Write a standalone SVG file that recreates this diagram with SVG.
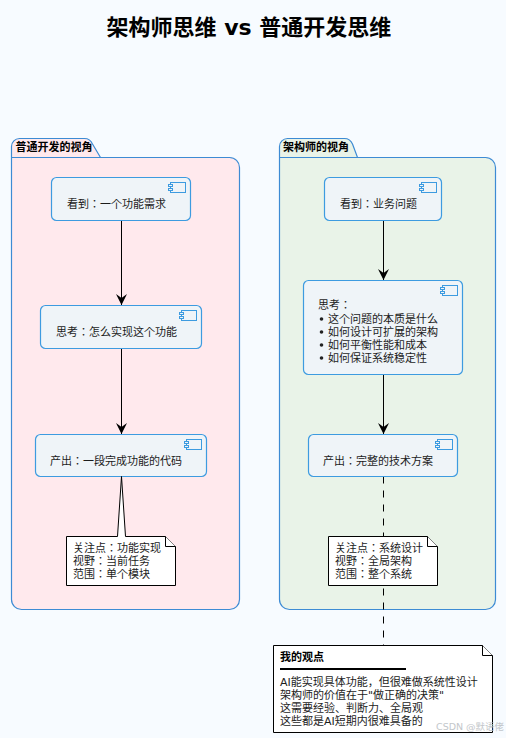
<svg xmlns="http://www.w3.org/2000/svg" width="506" height="738" viewBox="0 0 506 738">
<style>
text{font-family:"DejaVu Sans","Noto Sans CJK JP",sans-serif;font-size:11px;fill:#1c1c1c}
.pkg{stroke:#3d8bd4;stroke-width:1.200}
.box{fill:#eff4f8;stroke:#3d9be0;stroke-width:1.200}
.ic{fill:#eff4f8;stroke:#3d9be0;stroke-width:1}
.note{fill:#fff;stroke:#000;stroke-width:1}
.t{font-weight:700;fill:#000}
.cn{stroke:#000;stroke-width:1;fill:none}
</style>
<defs>
<marker id="arr" markerUnits="userSpaceOnUse" markerWidth="12" markerHeight="12" refX="11" refY="5.500" orient="auto" viewBox="0 0 12 11"><path d="M0 0L11 5.500L0 11L4 5.500Z" fill="#000"/></marker>
<g id="ci"><rect class="ic" x="2" y="0" width="15" height="10"/><rect class="ic" x="0" y="2" width="4" height="2"/><rect class="ic" x="0" y="6" width="4" height="2"/></g>
</defs>
<rect width="506" height="738" fill="#f7fbff"/>
<text x="249" y="35" text-anchor="middle" class="t" style="font-size:22px">架构师思维 vs 普通开发思维</text>

<g id="pkg-dev">
<path class="pkg" fill="#ffe9ed" d="M11.500 157.500V146.500A8 8 0 0 1 19.500 138.500H84.500Q90 138.500 92.500 144L100.500 157.500H229.500A10 10 0 0 1 239.500 167.500V599.500A10 10 0 0 1 229.500 609.500H21.500A10 10 0 0 1 11.500 599.500V157.500H100.500"/>
<text x="15.500" y="151" class="t">普通开发的视角</text>
</g>
<g id="pkg-arch">
<path class="pkg" fill="#e9f3e8" d="M279.500 157.500V146.500A8 8 0 0 1 287.500 138.500H344.500Q350 138.500 352.500 144L357.500 157.500H485.500A10 10 0 0 1 495.500 167.500V599.500A10 10 0 0 1 485.500 609.500H289.500A10 10 0 0 1 279.500 599.500V157.500H357.500"/>
<text x="283" y="151" class="t">架构师的视角</text>
</g>

<g id="connectors">
<line class="cn" x1="121.500" y1="220.500" x2="121.500" y2="305" marker-end="url(#arr)"/>
<line class="cn" x1="121.500" y1="348.500" x2="121.500" y2="434" marker-end="url(#arr)"/>
<line class="cn" x1="383.500" y1="220.500" x2="383.500" y2="280" marker-end="url(#arr)"/>
<line class="cn" x1="383.500" y1="374.500" x2="383.500" y2="434" marker-end="url(#arr)"/>
<line class="cn" stroke-dasharray="7 7" x1="383.500" y1="476.500" x2="383.500" y2="645"/>
</g>

<g id="n-dev-see"><rect class="box" x="51.500" y="177.500" width="139" height="43" rx="5"/><use href="#ci" x="168.500" y="182.500"/><text x="67" y="208">看到：一个功能需求</text></g>
<g id="n-dev-think"><rect class="box" x="40.500" y="305.500" width="161" height="43" rx="5"/><use href="#ci" x="179.500" y="310.500"/><text x="56" y="336">思考：怎么实现这个功能</text></g>
<g id="n-dev-out"><rect class="box" x="35.500" y="434.500" width="171" height="42" rx="5"/><use href="#ci" x="184.500" y="439.500"/><text x="50" y="465">产出：一段完成功能的代码</text></g>

<g id="n-arch-see"><rect class="box" x="324.500" y="177.500" width="117" height="43" rx="5"/><use href="#ci" x="419.500" y="182.500"/><text x="340" y="208">看到：业务问题</text></g>
<g id="n-arch-think"><rect class="box" x="303.500" y="280.500" width="159" height="94" rx="5"/><use href="#ci" x="440.500" y="285.500"/>
<text x="318" y="309">思考：</text>
<circle cx="321.500" cy="319" r="1.800" fill="#222"/><text x="328" y="323">这个问题的本质是什么</text>
<circle cx="321.500" cy="332" r="1.800" fill="#222"/><text x="328" y="336">如何设计可扩展的架构</text>
<circle cx="321.500" cy="345" r="1.800" fill="#222"/><text x="328" y="349">如何平衡性能和成本</text>
<circle cx="321.500" cy="358" r="1.800" fill="#222"/><text x="328" y="362">如何保证系统稳定性</text></g>
<g id="n-arch-out"><rect class="box" x="308.500" y="434.500" width="149" height="42" rx="5"/><use href="#ci" x="435.500" y="439.500"/><text x="323" y="465">产出：完整的技术方案</text></g>

<g id="note-dev"><path class="note" d="M66.500 536.500H117.500L121.500 476.500L125.500 536.500H165.500L175.500 546.500V585.500H66.500Z"/><path class="note" d="M165.500 536.500V546.500H175.500"/>
<text x="73" y="552">关注点：功能实现</text><text x="73" y="565">视野：当前任务</text><text x="73" y="578">范围：单个模块</text></g>
<g id="note-arch"><path class="note" d="M328.500 536.500H427.500L437.500 546.500V585.500H328.500Z"/><path class="note" d="M427.500 536.500V546.500H437.500"/>
<text x="335" y="552">关注点：系统设计</text><text x="335" y="565">视野：全局架构</text><text x="335" y="578">范围：整个系统</text></g>
<g id="note-view"><path class="note" d="M273.500 645.500H482.500L492.500 655.500V732.500H273.500Z"/><path class="note" d="M482.500 645.500V655.500H492.500"/>
<text x="280" y="661" class="t">我的观点</text><line x1="280" y1="669" x2="406" y2="669" stroke="#000" stroke-width="2"/>
<text x="280" y="686">AI能实现具体功能，但很难做系统性设计</text><text x="280" y="699">架构师的价值在于"做正确的决策"</text><text x="280" y="712">这需要经验、判断力、全局观</text><text x="280" y="725">这些都是AI短期内很难具备的</text></g>
<text x="436" y="730" style="font-size:9.500px;fill:#b9bdc2;opacity:.85">CSDN @默语佬</text>
</svg>
